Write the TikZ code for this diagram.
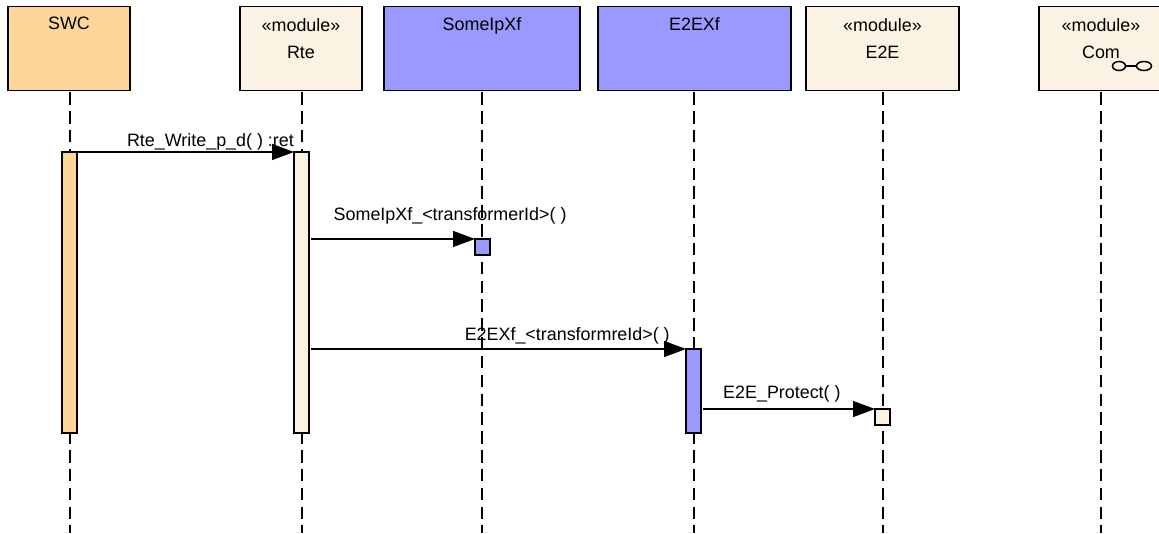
\documentclass[tikz,border=0pt]{standalone}
\usepackage{fontspec}
\setmainfont{Liberation Sans}
\usetikzlibrary{arrows.meta,shapes.geometric}
\definecolor{swcfill}{HTML}{FFD699}
\definecolor{modfill}{HTML}{FCF2E3}
\definecolor{xffill}{HTML}{9999FF}
\newcommand{\headnode}[2]{%
  \begin{tabular}{@{}c@{}}
    #1\\[7pt] #2
  \end{tabular}
}
\begin{document}
\begin{tikzpicture}[
      x=1pt,y=-1pt,
      every node/.style={font=\fontsize{17.9}{20}\selectfont},
      headbox/.style={draw,line width=1.7pt,minimum height=84pt,inner sep=0pt,outer sep=0pt,anchor=north west},
      headtext/.style={anchor=north,inner sep=0pt,yshift=-10.5pt},
      bar/.style={draw,line width=1.6pt,minimum width=15pt,inner sep=0pt,outer sep=0pt,anchor=north west},
      link/.style={draw,ellipse,line width=1.5pt,minimum height=9pt,inner sep=0pt,outer sep=0pt},
      lifeline/.style={line width=1.8pt,dash pattern=on 12.5pt off 6.33pt},
      msg/.style={line width=1.4pt,-{Triangle[length=22pt,width=16pt]}},
      msgtext/.style={above,inner sep=0pt}
    ]
      \useasboundingbox (0,0) rectangle (1159,533);
      % head boxes
      \node[headbox,fill=swcfill,minimum width=122pt,label={[headtext]north:SWC}] (swc) at (8,6.5) {};
      \node[headbox,fill=modfill,minimum width=122pt,label={[headtext]north:\headnode{«module»}{Rte}}] (rte) at (240,6.5) {};
      \node[headbox,fill=xffill,minimum width=196pt,label={[headtext]north:SomeIpXf}] (someip) at (384,6.5) {};
      \node[headbox,fill=xffill,minimum width=193pt,label={[headtext]north:E2EXf}] (e2exf) at (598,6.5) {};
      \node[headbox,fill=modfill,minimum width=153pt,label={[headtext]north:\headnode{«module»}{E2E}}] (e2e) at (806,6.5) {};
      \node[headbox,fill=modfill,minimum width=124pt,label={[headtext]north:\headnode{«module»}{Com}}] (com) at (1039,6.5) {};
      % link icon
      \node[link,minimum width=13pt] (comleft) at (1119,66) {};
      \node[link,minimum width=15pt] (comright) at (1144,66) {};
      \draw[line width=1.5pt] (comleft) -- (comright);
      % lifelines
      \foreach \name/\px in {swc/70,rte/302,someip/482,e2exf/694,e2e/883,com/1101} {
        \coordinate (\name end) at (\px,533);
        \draw[lifeline] (\px,92.3) -- (\name end);
      }
      % activations
      \node[bar,fill=swcfill,minimum height=281pt] (swcbar) at (62,152) {};
      \node[bar,fill=modfill,minimum height=281pt] (rtebar) at (294,152) {};
      \node[bar,fill=xffill,minimum height=16pt] (someipbar) at (475,239) {};
      \node[bar,fill=xffill,minimum height=84pt] (e2exfbar) at (686,349) {};
      \node[bar,fill=modfill,minimum height=16pt] (e2ebar) at (875,409) {};
      % calls
      \draw[msg] (swcbar.north east) -- node[msgtext,pos=.615,yshift=1pt] {Rte\_Write\_p\_d( ) :ret} (rtebar.north west);
      \draw[msg,shorten <=2pt] (rtebar.east |- someipbar.north west) -- node[msgtext,pos=.85,yshift=14pt] {SomeIpXf\_<transformerId>( )} (someipbar.north west);
      \draw[msg,shorten <=2pt] (rtebar.east |- e2exfbar.north west) -- node[msgtext,pos=.685,yshift=4pt] {E2EXf\_<transformreId>( )} (e2exfbar.north west);
      \draw[msg,shorten <=2pt] (e2exfbar.east |- e2ebar.north west) -- node[msgtext,pos=.465,yshift=6pt] {E2E\_Protect( )} (e2ebar.north west);
    \end{tikzpicture}
\end{document}
